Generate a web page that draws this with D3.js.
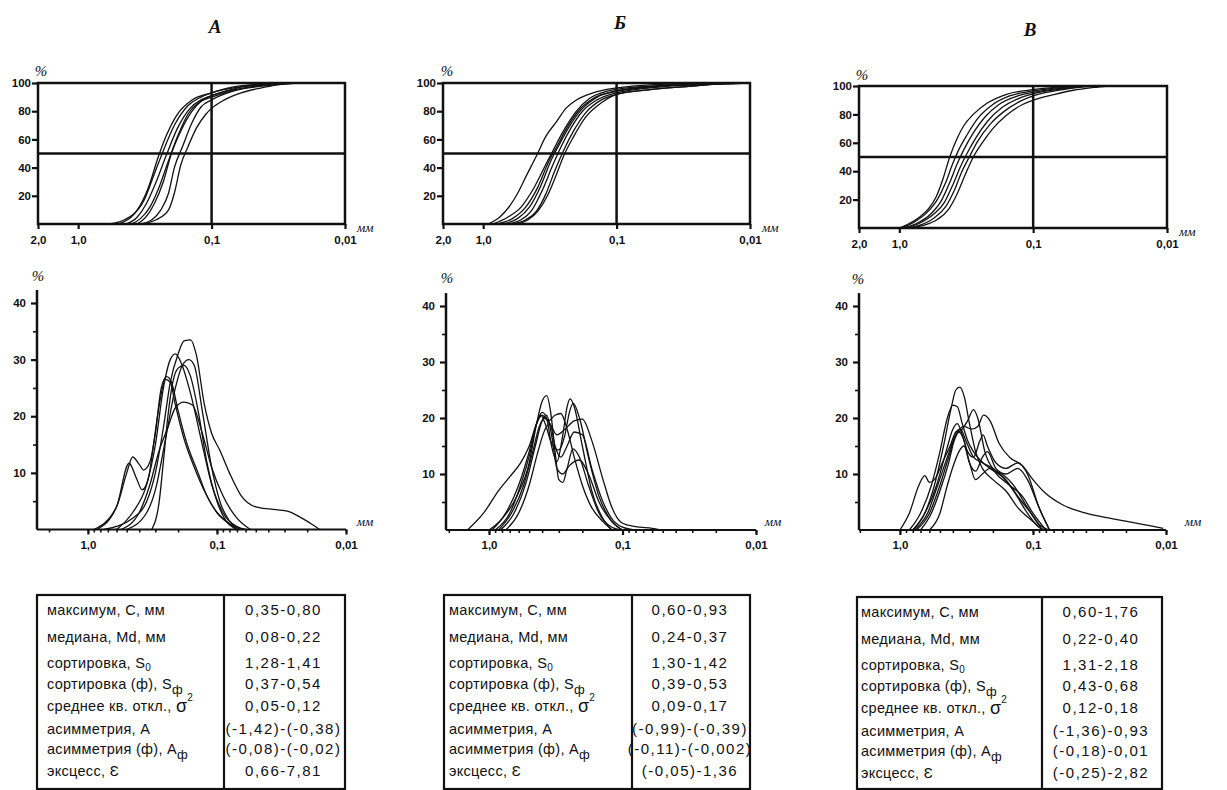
<!DOCTYPE html>
<html>
<head>
<meta charset="utf-8">
<style>
  body { margin: 0; background: #fff; }
  svg { display: block; font-family: "Liberation Sans", Arial, sans-serif; }
  .tick text { font-size: 11.5px; font-weight: bold; fill: #111; font-family: "Liberation Sans", Arial, sans-serif; }
  .tick line { stroke: #111; stroke-width: 2.2; }
  .minor line { stroke-width: 1.6; }
  .unit { font-family: "Liberation Serif", "Times New Roman", serif; font-style: italic; font-size: 13px; fill: #111; }
  .pct { font-family: "Liberation Serif", "Times New Roman", serif; font-style: italic; font-size: 15px; fill: #111; }
  .title { font-family: "Liberation Serif", "Times New Roman", serif; font-style: italic; font-weight: bold; font-size: 19px; fill: #111; }
  .curve { fill: none; stroke: #111; stroke-width: 1.3; }
  .frame { fill: none; stroke: #111; stroke-width: 2.5; }
  .label { font-size: 14.5px; fill: #111; letter-spacing: 0.3px; }
  .value { font-size: 15px; fill: #111; letter-spacing: 1.5px; }
</style>
<script src="https://cdn.jsdelivr.net/npm/d3@7"></script>
</head>
<body>
<svg width="1227" height="790"></svg>
<script>
// panel names and axis ticks
var panels = ["А", "Б", "В"]
var cumYTicks = [20, 40, 60, 80, 100]
var cumXTicks = [2, 1, 0.1, 0.01]
var cumXLabels = ["2,0", "1,0", "0,1", "0,01"]
var freqYTicks = [10, 20, 30, 40]
var freqYMinor = [5, 15, 25, 35]
var freqXTicks = [1, 0.1, 0.01]
var freqXLabels = ["1,0", "0,1", "0,01"]

// cumulative curves: [size mm, %]
var cumA = [
  [[0.58,0],[0.45,3],[0.36,10],[0.30,25],[0.25,48],[0.22,62],[0.18,78],[0.14,88],[0.10,93],[0.07,97],[0.04,99.5],[0.03,100]],
  [[0.50,0],[0.40,5],[0.32,17],[0.27,35],[0.23,52],[0.19,70],[0.15,84],[0.12,90],[0.10,93],[0.06,97.5],[0.03,100]],
  [[0.44,0],[0.36,5],[0.31,14],[0.26,30],[0.22,48],[0.18,68],[0.145,82],[0.12,88],[0.10,91],[0.06,97],[0.03,100]],
  [[0.40,0],[0.34,4],[0.29,12],[0.25,25],[0.21,45],[0.18,62],[0.15,78],[0.12,87],[0.10,90],[0.06,96],[0.03,99.5]],
  [[0.36,0],[0.31,5],[0.27,14],[0.23,30],[0.20,50],[0.17,66],[0.14,80],[0.12,87],[0.10,91],[0.06,96],[0.03,100]],
  [[0.34,0],[0.28,3],[0.24,10],[0.21,22],[0.19,40],[0.165,55],[0.14,72],[0.12,83],[0.10,88],[0.07,94],[0.04,98],[0.025,100]],
  [[0.34,0],[0.26,3],[0.21,10],[0.19,22],[0.17,42],[0.15,55],[0.13,68],[0.11,78],[0.10,82],[0.08,88],[0.06,93],[0.04,97],[0.03,99],[0.022,100]]
]
var cumB = [
  [[0.92,0],[0.75,5],[0.63,13],[0.55,22],[0.47,35],[0.40,48],[0.34,62],[0.28,73],[0.24,82],[0.20,88],[0.15,93],[0.10,96.5],[0.05,99],[0.02,100]],
  [[0.85,0],[0.65,5],[0.52,12],[0.42,25],[0.34,42],[0.30,52],[0.25,66],[0.20,80],[0.16,89],[0.12,94],[0.10,95.5],[0.05,98],[0.02,99.5],[0.012,100]],
  [[0.78,0],[0.60,4],[0.48,12],[0.39,26],[0.32,45],[0.28,55],[0.24,67],[0.19,81],[0.15,89],[0.10,94.5],[0.05,98],[0.02,99.5],[0.01,100]],
  [[0.72,0],[0.55,4],[0.45,12],[0.37,27],[0.31,45],[0.27,56],[0.23,68],[0.18,82],[0.14,90],[0.10,94],[0.05,97.5],[0.02,99.5],[0.01,100]],
  [[0.66,0],[0.52,3],[0.43,10],[0.36,24],[0.30,42],[0.26,55],[0.22,68],[0.18,80],[0.14,88],[0.10,93],[0.05,97],[0.02,99],[0.01,100]],
  [[0.60,0],[0.48,3],[0.40,9],[0.34,21],[0.29,38],[0.25,52],[0.21,66],[0.17,79],[0.13,88],[0.10,92],[0.06,95],[0.03,97.5],[0.015,99.5],[0.01,100]],
  [[0.55,0],[0.46,3],[0.39,9],[0.33,20],[0.28,36],[0.25,48],[0.21,62],[0.17,76],[0.13,86],[0.10,92],[0.06,95],[0.03,97.5],[0.015,99.5],[0.01,100]]
]
var cumC = [
  [[1.0,0],[0.85,3],[0.70,8],[0.60,14],[0.53,22],[0.47,35],[0.42,50],[0.37,63],[0.33,72],[0.28,80],[0.22,88],[0.16,94],[0.10,97.5],[0.07,99],[0.05,100]],
  [[0.98,0],[0.78,4],[0.62,11],[0.52,20],[0.45,32],[0.40,45],[0.36,55],[0.31,66],[0.26,77],[0.20,87],[0.15,93],[0.10,96.5],[0.06,99],[0.045,100]],
  [[0.95,0],[0.75,3],[0.58,10],[0.48,20],[0.42,32],[0.37,45],[0.33,55],[0.28,67],[0.23,78],[0.18,87],[0.13,93],[0.10,95.5],[0.06,98.5],[0.04,100]],
  [[0.90,0],[0.72,3],[0.55,10],[0.46,18],[0.40,30],[0.35,43],[0.31,53],[0.27,63],[0.22,75],[0.17,85],[0.13,91],[0.10,94.5],[0.06,98],[0.04,100]],
  [[0.88,0],[0.70,2],[0.55,7],[0.45,15],[0.39,26],[0.34,40],[0.30,50],[0.26,61],[0.21,73],[0.16,83],[0.12,90],[0.10,93],[0.06,97.5],[0.04,99.5],[0.035,100]],
  [[0.85,0],[0.65,2],[0.52,6],[0.43,13],[0.37,24],[0.32,38],[0.28,50],[0.24,60],[0.20,70],[0.16,79],[0.12,87],[0.10,90],[0.07,94],[0.05,97],[0.035,99],[0.028,100]]
]

// frequency curves: [size mm, %]
var freqA = [
  [[0.75,0],[0.45,2],[0.35,5],[0.30,10],[0.26,18],[0.23,26],[0.20,31],[0.18,33.3],[0.16,33.5],[0.145,31],[0.125,22],[0.11,17],[0.095,14],[0.08,10],[0.065,6],[0.05,4],[0.035,3.5],[0.028,3.2],[0.022,2],[0.018,0.8],[0.016,0]],
  [[0.60,0],[0.45,3],[0.35,8],[0.30,15],[0.26,25],[0.23,30],[0.21,31],[0.19,29.5],[0.16,24],[0.13,15],[0.11,8],[0.09,3],[0.07,0.5],[0.06,0]],
  [[0.50,0],[0.35,3],[0.30,7],[0.25,16],[0.21,25],[0.185,29],[0.165,30],[0.15,29],[0.13,21],[0.11,11],[0.095,5],[0.08,1.5],[0.065,0]],
  [[0.90,0],[0.60,4],[0.50,10],[0.45,12.8],[0.40,11.5],[0.37,10.5],[0.33,12],[0.30,17],[0.27,25],[0.245,27],[0.225,26],[0.20,21],[0.17,15],[0.14,10],[0.12,6],[0.10,3],[0.08,1],[0.065,0]],
  [[0.85,0],[0.60,4],[0.48,11.7],[0.42,9],[0.38,7],[0.34,9],[0.31,15],[0.28,22],[0.25,26.5],[0.23,26],[0.21,22],[0.18,16],[0.15,11],[0.12,6],[0.10,3],[0.08,1],[0.07,0]],
  [[0.55,0],[0.40,3],[0.33,8],[0.28,14],[0.24,18],[0.21,21.5],[0.18,22.5],[0.155,22],[0.13,17],[0.11,11],[0.09,6],[0.07,2],[0.055,0]],
  [[0.32,0],[0.28,5],[0.26,12],[0.24,20],[0.22,26],[0.20,28.5],[0.18,29],[0.16,27],[0.14,21],[0.12,12],[0.10,5],[0.085,1.5],[0.07,0]]
]
var freqB = [
  [[1.45,0],[1.1,3],[0.85,7],[0.70,9.5],[0.58,12],[0.50,15],[0.44,19],[0.40,20.5],[0.36,19.5],[0.32,20.5],[0.29,20.8],[0.26,18],[0.23,13],[0.20,8],[0.17,4],[0.14,1.5],[0.12,0]],
  [[1.0,0],[0.8,2],[0.62,6],[0.50,12],[0.44,19],[0.40,23],[0.37,24],[0.345,21],[0.32,14],[0.30,9],[0.28,8.5],[0.26,11],[0.235,14.5],[0.21,13],[0.18,8],[0.15,3],[0.12,0.5],[0.10,0]],
  [[0.95,0],[0.75,3],[0.60,8],[0.50,14],[0.44,19],[0.40,21],[0.37,20],[0.34,15],[0.31,12.2],[0.28,17],[0.26,22],[0.247,23.4],[0.23,22],[0.20,15],[0.17,7],[0.14,2],[0.12,0]],
  [[0.90,0],[0.70,3],[0.58,8],[0.49,14],[0.44,19],[0.41,20.5],[0.38,19],[0.34,15.5],[0.30,14.3],[0.27,17],[0.25,21],[0.234,22.6],[0.21,20],[0.18,13],[0.15,6],[0.12,1.5],[0.10,0]],
  [[0.85,0],[0.68,3],[0.55,8],[0.47,14],[0.42,18.5],[0.38,20],[0.35,19],[0.31,17],[0.27,18],[0.23,19.5],[0.20,19.8],[0.17,16],[0.14,9],[0.12,4],[0.10,1.2],[0.08,0.6],[0.06,0.3],[0.05,0]],
  [[0.82,0],[0.65,3],[0.52,9],[0.45,15],[0.40,19.5],[0.37,20.5],[0.34,17],[0.31,11],[0.28,10],[0.25,11.5],[0.21,12.5],[0.18,10],[0.15,5],[0.12,1.5],[0.10,0]],
  [[0.75,0],[0.60,3],[0.50,8],[0.43,14],[0.38,18],[0.35,19],[0.32,15],[0.29,13],[0.26,15],[0.23,17.5],[0.20,17],[0.17,11],[0.14,5],[0.12,2],[0.10,0.5],[0.08,0]]
]
var freqC = [
  [[1.0,0],[0.85,3],[0.72,8],[0.65,9.7],[0.60,8.5],[0.55,9],[0.48,12],[0.42,15],[0.38,17.5],[0.35,18],[0.32,16],[0.28,13],[0.24,12],[0.20,11],[0.16,9],[0.13,6],[0.10,2.5],[0.085,0]],
  [[0.80,0],[0.65,3],[0.55,8],[0.47,15],[0.41,22],[0.38,25],[0.355,25.5],[0.33,24],[0.30,19],[0.27,14],[0.24,11],[0.20,9],[0.16,7],[0.13,4],[0.10,1.5],[0.085,0]],
  [[0.85,0],[0.70,3],[0.58,8],[0.50,14],[0.44,20],[0.40,22.3],[0.37,22],[0.34,19],[0.31,16],[0.28,14],[0.25,12.5],[0.21,11],[0.17,9.5],[0.14,7],[0.11,3],[0.09,0.5],[0.08,0]],
  [[0.75,0],[0.60,3],[0.50,8],[0.43,13],[0.38,17],[0.34,18],[0.31,19.5],[0.28,21.5],[0.26,20],[0.23,14],[0.20,11],[0.17,10],[0.14,8],[0.11,4],[0.09,1],[0.075,0]],
  [[0.78,0],[0.62,3],[0.52,8],[0.44,13],[0.38,17],[0.33,18.5],[0.29,18],[0.26,18.5],[0.235,20.5],[0.21,19.5],[0.18,15.5],[0.15,13],[0.12,11.5],[0.10,9],[0.08,6.5],[0.06,4.5],[0.04,3],[0.025,2],[0.015,1],[0.0105,0.3]],
  [[0.80,0],[0.65,3],[0.53,8],[0.45,14],[0.40,18],[0.37,19],[0.34,17],[0.31,14],[0.28,13],[0.25,16],[0.237,17],[0.22,15],[0.19,12],[0.16,11],[0.13,12],[0.11,10],[0.09,4],[0.075,0]],
  [[0.70,0],[0.58,3],[0.50,7],[0.43,12],[0.39,16],[0.36,17.5],[0.33,16],[0.30,12],[0.27,10.5],[0.24,13],[0.22,14],[0.19,11],[0.16,10],[0.13,11],[0.11,9],[0.09,4],[0.075,0]],
  [[0.60,0],[0.50,3],[0.44,8],[0.39,12],[0.36,14],[0.33,15],[0.30,12],[0.27,9],[0.24,10],[0.21,11],[0.18,9.5],[0.15,8],[0.12,6],[0.10,3],[0.08,0]]
]

// table rows: label pieces [text, style]
var rowLabels = [
  [["максимум, С, мм"]],
  [["медиана, Md, мм"]],
  [["сортировка, S"], ["0", "sub0"]],
  [["сортировка (ф), S"], ["ф", "sub"]],
  [["среднее кв. откл., "], ["σ", "big"], ["2", "sup"]],
  [["асимметрия, А"]],
  [["асимметрия (ф), А"], ["ф", "sub"]],
  [["эксцесс, "], ["Ɛ", "eps"]]
]
var valuesA = ["0,35-0,80", "0,08-0,22", "1,28-1,41", "0,37-0,54", "0,05-0,12", "(-1,42)-(-0,38)", "(-0,08)-(-0,02)", "0,66-7,81"]
var valuesB = ["0,60-0,93", "0,24-0,37", "1,30-1,42", "0,39-0,53", "0,09-0,17", "(-0,99)-(-0,39)", "(-0,11)-(-0,002)", "(-0,05)-1,36"]
var valuesC = ["0,60-1,76", "0,22-0,40", "1,31-2,18", "0,43-0,68", "0,12-0,18", "(-1,36)-0,93", "(-0,18)-0,01", "(-0,25)-2,82"]

var cumData = [cumA, cumB, cumC]
var freqData = [freqA, freqB, freqC]
var tableData = [valuesA, valuesB, valuesC]

// layout of the three columns
var layout = [
  {title: [215, 33], cum: [38, 345, 83, 224], cumPct: [41, 76], freq: [37, 346, 529.5, 303], freqLeft: 2.48, freqPct: [38, 281],
   freqUnit: [365, 526], table: [37, 224, 345, 595, 789], pad: 10},
  {title: [620, 29], cum: [443, 750, 83, 224], cumPct: [447, 76], freq: [446, 756, 530, 306], freqLeft: 2.1, freqPct: [447, 283],
   freqUnit: [773, 526], table: [444, 632, 750, 595, 789], pad: 5},
  {title: [1030, 36], cum: [859, 1167, 86, 228], cumPct: [862, 80], freq: [859, 1166, 530, 306], freqLeft: 2.03, freqPct: [858, 284],
   freqUnit: [1193, 526], table: [857, 1042, 1162, 597, 789], pad: 4}
]
var rowY = [20, 47, 73, 94, 116, 139, 159, 181]

var svg = d3.select("svg")

var drawPanel = function(i) {
  var L = layout[i]

  svg.append("text").attr("class", "title")
    .attr("x", L.title[0]).attr("y", L.title[1])
    .attr("text-anchor", "middle").text(panels[i])

  // cumulative chart
  var xC = d3.scaleLog().domain([2, 0.01]).range([L.cum[0], L.cum[1]])
  var yC = d3.scaleLinear().domain([0, 100]).range([L.cum[3], L.cum[2]])
  var gc = svg.append("g")

  gc.selectAll("path.curve")
    .data(cumData[i])
    .enter()
    .append("path")
    .attr("class", "curve")
    .attr("d", d3.line()
      .x(function(d) { return xC(d[0]) })
      .y(function(d) { return yC(d[1]) })
      .curve(d3.curveMonotoneX))

  gc.append("rect").attr("class", "frame")
    .attr("x", xC(2)).attr("y", yC(100))
    .attr("width", xC(0.01) - xC(2)).attr("height", yC(0) - yC(100))
  gc.append("line").attr("class", "frame")
    .attr("x1", xC(2)).attr("x2", xC(0.01)).attr("y1", yC(50)).attr("y2", yC(50))
  gc.append("line").attr("class", "frame")
    .attr("x1", xC(0.1)).attr("x2", xC(0.1)).attr("y1", yC(100)).attr("y2", yC(0))

  var yAxisC = d3.axisLeft(yC).tickValues(cumYTicks).tickSize(6).tickPadding(1)
  gc.append("g").attr("transform", "translate(" + xC(2) + ",0)").call(yAxisC)
    .call(function(g) { g.select(".domain").remove() })

  var xAxisC = d3.axisBottom(xC).tickValues(cumXTicks).tickSize(5).tickPadding(7)
    .tickFormat(function(d, k) { return cumXLabels[k] })
  gc.append("g").attr("transform", "translate(0," + yC(0) + ")").call(xAxisC)
    .call(function(g) { g.select(".domain").remove() })

  svg.append("text").attr("class", "pct").attr("x", L.cumPct[0]).attr("y", L.cumPct[1])
    .attr("text-anchor", "middle").text("%")
  svg.append("text").attr("class", "unit").attr("x", xC(0.01) + 12).attr("y", yC(0) + 8).text("мм")

  // frequency chart
  var xF = d3.scaleLog().domain([L.freqLeft, 0.01]).range([L.freq[0], L.freq[1]])
  var yF = d3.scaleLinear().domain([0, 40]).range([L.freq[2], L.freq[3]])
  var gf = svg.append("g")

  gf.selectAll("path.curve")
    .data(freqData[i])
    .enter()
    .append("path")
    .attr("class", "curve")
    .attr("d", d3.line()
      .x(function(d) { return xF(d[0]) })
      .y(function(d) { return yF(d[1]) })
      .curve(d3.curveMonotoneX))

  gf.append("line").attr("class", "frame")
    .attr("x1", xF(L.freqLeft)).attr("x2", xF(L.freqLeft))
    .attr("y1", yF(0)).attr("y2", yF(42.3))
  gf.append("line").attr("class", "frame").style("stroke-width", 1.8)
    .attr("x1", xF(L.freqLeft)).attr("x2", xF(0.01))
    .attr("y1", yF(0)).attr("y2", yF(0))

  var yAxisF = d3.axisLeft(yF).tickValues(freqYTicks).tickSize(6).tickPadding(5)
  gf.append("g").attr("transform", "translate(" + xF(L.freqLeft) + ",0)").call(yAxisF)
    .call(function(g) { g.select(".domain").remove() })
  var yMinorF = d3.axisLeft(yF).tickValues(freqYMinor).tickSize(4).tickFormat("")
  gf.append("g").attr("class", "minor").attr("transform", "translate(" + xF(L.freqLeft) + ",0)").call(yMinorF)
    .call(function(g) { g.select(".domain").remove() })

  var xMinorF = d3.axisBottom(xF).tickValues(xF.ticks()).tickSize(3).tickFormat("")
  gf.append("g").attr("class", "minor").attr("transform", "translate(0," + yF(0) + ")").call(xMinorF)
    .call(function(g) { g.select(".domain").remove() })
  var xAxisF = d3.axisBottom(xF).tickValues(freqXTicks).tickSize(5).tickPadding(6)
    .tickFormat(function(d, k) { return freqXLabels[k] })
  gf.append("g").attr("transform", "translate(0," + yF(0) + ")").call(xAxisF)
    .call(function(g) { g.select(".domain").remove() })

  svg.append("text").attr("class", "pct").attr("x", L.freqPct[0]).attr("y", L.freqPct[1])
    .attr("text-anchor", "middle").text("%")
  svg.append("text").attr("class", "unit").attr("x", L.freqUnit[0]).attr("y", L.freqUnit[1])
    .attr("text-anchor", "middle").text("мм")

  // table
  var T = L.table
  var gt = svg.append("g")
  gt.append("rect").attr("class", "frame").style("stroke-width", 2.2)
    .attr("x", T[0]).attr("y", T[3]).attr("width", T[2] - T[0]).attr("height", T[4] - T[3])
  gt.append("line").attr("class", "frame").style("stroke-width", 2.2)
    .attr("x1", T[1]).attr("x2", T[1]).attr("y1", T[3]).attr("y2", T[4])

  var lab = gt.selectAll("text.label")
    .data(rowLabels)
    .enter()
    .append("text")
    .attr("class", "label")
    .attr("x", T[0] + L.pad)
    .attr("y", function(d, k) { return T[3] + rowY[k] })
  lab.each(function(parts) {
    var t = d3.select(this)
    parts.forEach(function(p) {
      var s = t.append("tspan").text(p[0])
      if (p[1] == "sub0") s.attr("dy", 3).style("font-size", "10px")
      if (p[1] == "sub") s.attr("dy", 5).style("font-size", "13px")
      if (p[1] == "big") s.attr("dy", 1).style("font-size", "18px")
      if (p[1] == "sup") s.attr("dy", -11).style("font-size", "10px")
      if (p[1] == "eps") s.style("font-size", "15px")
    })
  })

  gt.selectAll("text.value")
    .data(tableData[i])
    .enter()
    .append("text")
    .attr("class", "value")
    .attr("x", (T[1] + T[2]) / 2 - 1)
    .attr("y", function(d, k) { return T[3] + rowY[k] })
    .attr("text-anchor", "middle")
    .text(function(d) { return d })
}

panels.forEach(function(p, i) { drawPanel(i) })
</script>
</body>
</html>
